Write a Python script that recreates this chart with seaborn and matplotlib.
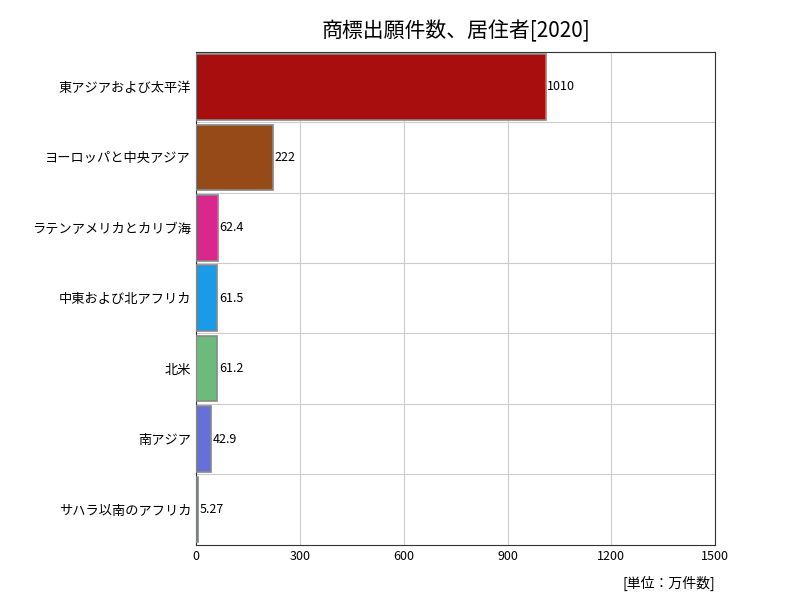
import matplotlib
matplotlib.use("Agg")
import matplotlib.pyplot as plt
import seaborn as sns
import pandas as pd

regions = ["東アジアおよび太平洋", "ヨーロッパと中央アジア", "ラテンアメリカとカリブ海",
           "中東および北アフリカ", "北米", "南アジア", "サハラ以南のアフリカ"]
values = [1010, 222, 62.4, 61.5, 61.2, 42.9, 5.27]
labels = ["1010", "222", "62.4", "61.5", "61.2", "42.9", "5.27"]
colors = ["#A80E0E", "#964A17", "#D8288C", "#1A9BE8", "#6DBB7C", "#6670D8", "#2E5E3E"]
ticks = [0, 300, 600, 900, 1200, 1500]

plt.rcParams["font.family"] = "Noto Sans CJK JP"
fig = plt.figure(figsize=(8, 6), dpi=100)
ax = fig.add_axes([0.245, 0.092, 0.649, 0.822])
df = pd.DataFrame({"region": regions, "value": values})
sns.barplot(data=df, x="value", y="region", hue="region", palette=colors, legend=False,
            saturation=1, width=0.93, edgecolor="#888888", linewidth=1.2, ax=ax, zorder=3)
for i, (v, l) in enumerate(zip(values, labels)):
    ax.text(v + 5, i, l, va="center", ha="left", fontsize=9)
ax.set_xlim(0, 1500)
ax.set_xticks(ticks)
ax.set_xticklabels([str(t) for t in ticks], fontsize=9)
ax.set_yticks([i + 0.5 for i in range(len(regions) - 1)], minor=True)
ax.tick_params(axis="y", labelsize=9.5, length=0, which="both")
ax.tick_params(axis="x", length=0)
ax.grid(axis="x", color="#cccccc", zorder=0)
ax.grid(axis="y", which="minor", color="#cccccc", zorder=0)
ax.set_xlabel(""); ax.set_ylabel("")
for s in ax.spines.values():
    s.set_color("#333333")
ax.set_title("商標出願件数、居住者[2020]", fontsize=15, pad=10)
fig.text(0.894, 0.02, "[単位：万件数]", ha="right", fontsize=10)
fig.savefig("out.png")
